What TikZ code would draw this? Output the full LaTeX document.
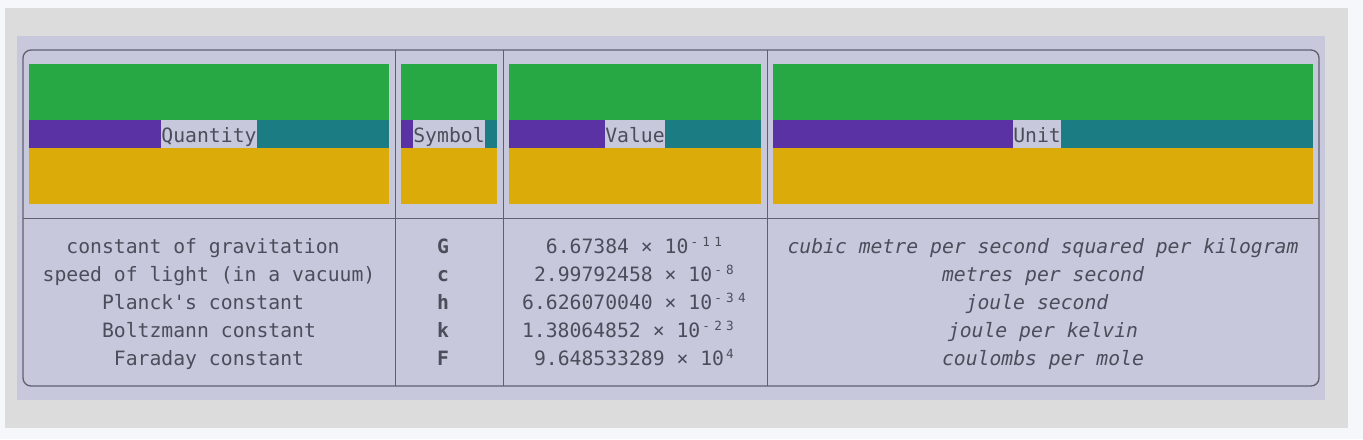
\documentclass[tikz,border=0pt]{standalone}
\usepackage{fontspec}
\setmonofont{DejaVu Sans Mono}
\usepackage{tikz}
\definecolor{pagebg}{HTML}{F5F7FA}
\definecolor{framebg}{HTML}{DCDCDC}
\definecolor{tablebg}{HTML}{C7C8DC}
\definecolor{rulegray}{HTML}{5F6170}
\definecolor{ink}{HTML}{4A4E5A}
\definecolor{hgreen}{HTML}{28A745}
\definecolor{hpurple}{HTML}{5A32A3}
\definecolor{hteal}{HTML}{1B7C83}
\definecolor{hyellow}{HTML}{DBAB09}
\newcommand{\monofont}{\ttfamily\fontsize{14.8}{17}\selectfont}
% one raised character in one mono cell
\newcommand{\supcell}[1]{\makebox[0.602em][c]{\raisebox{5pt}{\fontsize{9.5}{9.5}\selectfont #1}}}

\begin{document}
\begin{tikzpicture}[x=0.75pt, y=-0.75pt]
\tikzstyle{every node} = [text=ink, font=\monofont, inner sep=0pt]
\tikzstyle{headlabel} = [fill=tablebg, minimum height=21pt, text height=12pt, text depth=0pt]
\tikzstyle{cell} = [anchor=base]
\useasboundingbox (0,0) rectangle (1363,439);
\fill[pagebg] (0,0) rectangle (1363,439);
\fill[framebg] (5,8) rectangle (1348,428);
\fill[tablebg] (17,36) rectangle (1325,400);
% header blocks
\foreach \l/\r/\m/\name/\txt in {29/389/209/hq/Quantity, 401/497/449/hs/Symbol, 509/761/635/hv/Value, 773/1313/1037/hu/Unit} {
  \fill[hgreen] (\l,64) rectangle (\r,120);
  \fill[hpurple] (\l,120) rectangle (\m,148);
  \fill[hteal] (\m,120) rectangle (\r,148);
  \fill[hyellow] (\l,148) rectangle (\r,204);
  \node[headlabel] (\name) at (\m,134) {\txt};
}
% table rules
\draw[rulegray, line width=1pt, rounded corners=6pt] (23,50) rectangle (1319,386);
\draw[rulegray] (23,218) -- (1319,218);
\foreach \x in {395,503,767}
  \draw[rulegray] (\x,50) -- (\x,386);
% rows
\node[cell] (q1) at (203,253.5) {constant of gravitation};
\node[cell] (q2) at (209,281.5) {speed of light (in a vacuum)};
\node[cell] (q3) at (203,309.5) {Planck's constant};
\node[cell] (q4) at (209,337.5) {Boltzmann constant};
\node[cell] (q5) at (209,365.5) {Faraday constant};
\foreach \i/\s in {1/G, 2/c, 3/h, 4/k, 5/F}
  \node[cell, font=\monofont\bfseries] (s\i) at (443,{225.5+28*\i}) {\s};
\node[cell] (v1) at (635,253.5) {6.67384 × 10\supcell{-}\supcell{1}\supcell{1}};
\node[cell] (v2) at (635,281.5) {2.99792458 × 10\supcell{-}\supcell{8}};
\node[cell] (v3) at (635,309.5) {6.626070040 × 10\supcell{-}\supcell{3}\supcell{4}};
\node[cell] (v4) at (629,337.5) {1.38064852 × 10\supcell{-}\supcell{2}\supcell{3}};
\node[cell] (v5) at (635,365.5) {9.648533289 × 10\supcell{4}};
\node[cell, font=\monofont\itshape] (u1) at (1043,253.5) {cubic metre per second squared per kilogram};
\node[cell, font=\monofont\itshape] (u2) at (1043,281.5) {metres per second};
\node[cell, font=\monofont\itshape] (u3) at (1037,309.5) {joule second};
\node[cell, font=\monofont\itshape] (u4) at (1043,337.5) {joule per kelvin};
\node[cell, font=\monofont\itshape] (u5) at (1043,365.5) {coulombs per mole};
\end{tikzpicture}
\end{document}
